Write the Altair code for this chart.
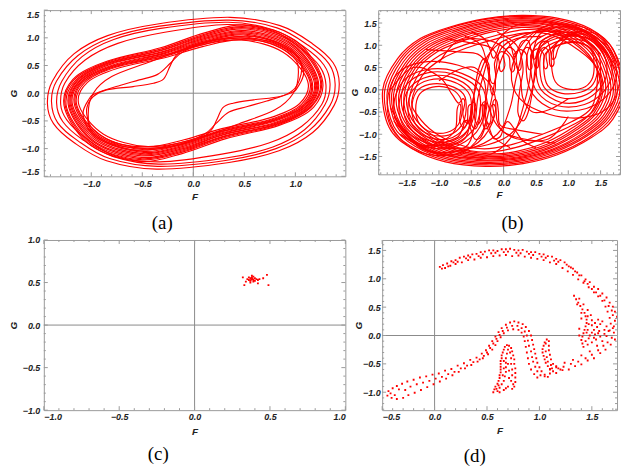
import altair as alt
import pandas as pd

RED = "#ff0000"
FRAME = "#9a9a9a"
ZERO = "#8a8a8a"
INK = "#222222"

# ---------------- panel (a): trajectory loops, (F, G) ----------------
a_outer_1 = [(-1.43,-0.18),(-1.38,0.22),(-1.17,0.71),(-0.84,1.04),(-0.35,1.25),(0.36,1.37),(0.85,1.22),(1.17,0.89),(1.37,0.55),(1.43,0.18),(1.38,-0.22),(1.17,-0.71),(0.84,-1.04),(0.35,-1.25),(-0.36,-1.37),(-0.85,-1.22),(-1.17,-0.89),(-1.37,-0.55)]
a_outer_2 = [(-1.39,-0.15),(-1.34,0.22),(-1.13,0.68),(-0.81,1.00),(-0.33,1.21),(0.35,1.32),(0.82,1.18),(1.13,0.86),(1.33,0.53),(1.39,0.16),(1.34,-0.22),(1.13,-0.68),(0.81,-1.00),(0.33,-1.21),(-0.35,-1.32),(-0.82,-1.18),(-1.13,-0.86),(-1.33,-0.53)]
a_outer_3 = [(-1.34,-0.17),(-1.29,0.21),(-1.09,0.66),(-0.78,0.97),(-0.32,1.17),(0.34,1.28),(0.79,1.14),(1.09,0.83),(1.28,0.51),(1.34,0.17),(1.29,-0.21),(1.09,-0.66),(0.78,-0.97),(0.32,-1.17),(-0.34,-1.28),(-0.79,-1.14),(-1.09,-0.83),(-1.28,-0.51)]
a_outer_4 = [(-1.30,-0.20),(-1.26,0.18),(-1.06,0.60),(-0.74,0.90),(-0.28,1.10),(0.33,1.24),(0.78,1.12),(1.06,0.80),(1.24,0.48),(1.30,0.15),(1.26,-0.20),(1.06,-0.60),(0.74,-0.90),(0.28,-1.10),(-0.33,-1.24),(-0.78,-1.12),(-1.06,-0.80),(-1.24,-0.48)]
a_band_1 = [(-1.26,-0.28),(-1.18,0.25),(-0.84,0.58),(-0.32,0.82),(0.11,1.09),(0.53,1.23),(1.00,0.95),(1.26,0.28),(1.18,-0.25),(0.84,-0.58),(0.32,-0.82),(-0.11,-1.09),(-0.53,-1.23),(-1.00,-0.95)]
a_band_1b = [(-1.25,-0.27),(-1.17,0.24),(-0.83,0.57),(-0.31,0.80),(0.10,1.06),(0.52,1.20),(0.99,0.93),(1.25,0.27),(1.16,-0.24),(0.83,-0.57),(0.31,-0.80),(-0.10,-1.06),(-0.52,-1.20),(-0.99,-0.93)]
a_band_2 = [(-1.24,-0.27),(-1.15,0.24),(-0.82,0.56),(-0.31,0.78),(0.10,1.04),(0.52,1.18),(0.98,0.91),(1.24,0.27),(1.15,-0.24),(0.82,-0.56),(0.31,-0.78),(-0.10,-1.04),(-0.52,-1.18),(-0.98,-0.91)]
a_band_2b = [(-1.22,-0.26),(-1.14,0.23),(-0.82,0.55),(-0.31,0.77),(0.10,1.02),(0.51,1.16),(0.97,0.89),(1.22,0.26),(1.14,-0.23),(0.82,-0.55),(0.31,-0.77),(-0.10,-1.02),(-0.51,-1.16),(-0.97,-0.89)]
a_band_3 = [(-1.21,-0.26),(-1.13,0.23),(-0.81,0.54),(-0.30,0.75),(0.10,1.00),(0.51,1.13),(0.96,0.88),(1.21,0.26),(1.13,-0.23),(0.81,-0.54),(0.30,-0.75),(-0.10,-1.00),(-0.51,-1.13),(-0.96,-0.88)]
a_band_3b = [(-1.20,-0.25),(-1.12,0.22),(-0.80,0.53),(-0.30,0.74),(0.10,0.98),(0.50,1.11),(0.95,0.86),(1.20,0.25),(1.12,-0.22),(0.80,-0.53),(0.30,-0.74),(-0.10,-0.98),(-0.50,-1.11),(-0.95,-0.86)]
a_band_4 = [(-1.19,-0.25),(-1.11,0.22),(-0.79,0.51),(-0.30,0.72),(0.10,0.96),(0.50,1.09),(0.94,0.84),(1.19,0.25),(1.11,-0.22),(0.79,-0.51),(0.30,-0.72),(-0.10,-0.96),(-0.50,-1.09),(-0.94,-0.84)]
a_band_4b = [(-1.18,-0.24),(-1.10,0.21),(-0.78,0.50),(-0.29,0.71),(0.10,0.94),(0.49,1.07),(0.93,0.82),(1.18,0.24),(1.10,-0.21),(0.78,-0.50),(0.29,-0.71),(-0.10,-0.94),(-0.49,-1.07),(-0.93,-0.82)]
a_band_5 = [(-1.16,-0.24),(-1.09,0.21),(-0.78,0.49),(-0.29,0.69),(0.10,0.92),(0.49,1.05),(0.92,0.81),(1.16,0.24),(1.09,-0.21),(0.78,-0.49),(0.29,-0.69),(-0.10,-0.92),(-0.49,-1.05),(-0.92,-0.81)]
a_band_5b = [(-1.15,-0.23),(-1.08,0.20),(-0.77,0.48),(-0.29,0.68),(0.10,0.90),(0.48,1.02),(0.91,0.79),(1.15,0.23),(1.08,-0.20),(0.77,-0.48),(0.29,-0.68),(-0.10,-0.90),(-0.48,-1.02),(-0.91,-0.79)]
a_band_6 = [(-1.14,-0.23),(-1.06,0.20),(-0.76,0.47),(-0.29,0.66),(0.10,0.88),(0.48,1.00),(0.90,0.77),(1.14,0.23),(1.06,-0.20),(0.76,-0.47),(0.29,-0.66),(-0.10,-0.88),(-0.48,-1.00),(-0.90,-0.77)]
a_band_7 = [(-1.12,-0.22),(-1.04,0.19),(-0.74,0.45),(-0.28,0.64),(0.09,0.84),(0.47,0.96),(0.88,0.74),(1.12,0.22),(1.04,-0.19),(0.74,-0.45),(0.28,-0.64),(-0.09,-0.84),(-0.47,-0.96),(-0.88,-0.74)]
a_inner = [(-1.03,-0.38),(-0.98,0.00),(-0.80,0.30),(-0.45,0.55),(-0.10,0.78),(0.30,0.95),(0.72,0.92),(0.98,0.65),(1.03,0.38),(0.98,0.00),(0.80,-0.30),(0.45,-0.55),(0.10,-0.78),(-0.30,-0.95),(-0.72,-0.92),(-0.98,-0.65)]
a_kink_1 = [(-1.04,-0.42),(-1.04,-0.24),(-0.98,-0.06),(-0.85,0.06),(-0.59,0.12),(-0.39,0.18),(-0.29,0.26),(-0.23,0.48),(-0.17,0.68),(-0.04,0.84),(0.30,0.98),(0.72,0.95),(0.98,0.72),(1.06,0.50),(1.04,0.24),(0.98,0.06),(0.85,-0.06),(0.59,-0.12),(0.39,-0.18),(0.29,-0.26),(0.23,-0.48),(0.17,-0.68),(0.04,-0.84),(-0.30,-0.98),(-0.72,-0.95),(-0.98,-0.72)]
a_kink_2 = [(-1.08,-0.40),(-1.02,-0.10),(-0.95,0.00),(-0.72,0.14),(-0.53,0.24),(-0.35,0.34),(-0.22,0.55),(-0.10,0.75),(0.20,0.96),(0.60,1.02),(0.95,0.80),(1.08,0.40),(1.02,0.10),(0.95,0.00),(0.72,-0.14),(0.53,-0.24),(0.35,-0.34),(0.22,-0.55),(0.10,-0.75),(-0.20,-0.96),(-0.60,-1.02),(-0.95,-0.80)]
a_loops = [a_outer_1, a_outer_2, a_outer_3, a_outer_4, a_band_1, a_band_1b, a_band_2, a_band_2b,
           a_band_3, a_band_3b, a_band_4, a_band_4b, a_band_5, a_band_5b, a_band_6, a_band_7,
           a_inner, a_kink_1, a_kink_2]

# ---------------- panel (b): closed loops and open curly paths ----------------
b_ring_1 = [(-1.87,0.00),(-1.64,0.70),(-1.29,1.15),(-0.83,1.41),(-0.28,1.60),(0.28,1.67),(0.83,1.61),(1.34,1.37),(1.69,0.92),(1.87,0.05),(1.69,-0.66),(1.34,-1.09),(0.83,-1.46),(0.30,-1.66),(-0.28,-1.72),(-0.90,-1.62),(-1.42,-1.32),(-1.77,-0.85)]
b_ring_1b = [(-1.84,-0.02),(-1.61,0.68),(-1.27,1.13),(-0.82,1.39),(-0.28,1.58),(0.28,1.65),(0.82,1.58),(1.32,1.34),(1.66,0.89),(1.84,0.03),(1.66,-0.64),(1.32,-1.07),(0.82,-1.43),(0.29,-1.63),(-0.28,-1.69),(-0.89,-1.59),(-1.40,-1.30),(-1.74,-0.84)]
b_ring_2 = [(-1.80,-0.05),(-1.58,0.66),(-1.24,1.10),(-0.80,1.36),(-0.27,1.55),(0.28,1.62),(0.80,1.55),(1.29,1.31),(1.63,0.86),(1.80,0.02),(1.63,-0.62),(1.29,-1.04),(0.80,-1.40),(0.28,-1.60),(-0.27,-1.66),(-0.87,-1.56),(-1.37,-1.27),(-1.70,-0.82)]
b_ring_2b = [(-1.76,-0.06),(-1.55,0.63),(-1.22,1.07),(-0.78,1.33),(-0.26,1.52),(0.28,1.60),(0.79,1.52),(1.27,1.28),(1.60,0.84),(1.76,0.01),(1.60,-0.61),(1.27,-1.02),(0.79,-1.37),(0.28,-1.57),(-0.26,-1.63),(-0.85,-1.53),(-1.34,-1.24),(-1.66,-0.80)]
b_ring_3 = [(-1.73,-0.08),(-1.52,0.60),(-1.19,1.04),(-0.76,1.30),(-0.25,1.50),(0.27,1.57),(0.77,1.50),(1.24,1.26),(1.57,0.82),(1.73,0.00),(1.57,-0.60),(1.24,-1.00),(0.77,-1.35),(0.27,-1.54),(-0.25,-1.60),(-0.83,-1.50),(-1.31,-1.21),(-1.63,-0.78)]
b_ring_3b = [(-1.70,-0.09),(-1.49,0.58),(-1.16,1.01),(-0.74,1.27),(-0.24,1.47),(0.28,1.55),(0.76,1.48),(1.22,1.24),(1.54,0.80),(1.70,0.01),(1.54,-0.58),(1.22,-0.98),(0.76,-1.33),(0.26,-1.52),(-0.25,-1.58),(-0.82,-1.47),(-1.28,-1.19),(-1.60,-0.76)]
b_ring_4 = [(-1.66,-0.10),(-1.46,0.55),(-1.14,0.98),(-0.72,1.24),(-0.22,1.44),(0.28,1.52),(0.74,1.45),(1.19,1.21),(1.50,0.78),(1.66,0.02),(1.50,-0.57),(1.19,-0.95),(0.74,-1.30),(0.25,-1.50),(-0.24,-1.55),(-0.80,-1.44),(-1.25,-1.16),(-1.56,-0.74)]
b_ring_4b = [(-1.62,-0.11),(-1.43,0.52),(-1.11,0.95),(-0.70,1.21),(-0.21,1.41),(0.28,1.50),(0.73,1.43),(1.16,1.19),(1.47,0.76),(1.62,0.03),(1.47,-0.55),(1.16,-0.93),(0.72,-1.28),(0.25,-1.47),(-0.24,-1.53),(-0.78,-1.41),(-1.22,-1.13),(-1.53,-0.72)]
b_ring_5 = [(-1.58,-0.12),(-1.40,0.50),(-1.08,0.92),(-0.68,1.18),(-0.20,1.38),(0.28,1.47),(0.71,1.40),(1.13,1.16),(1.43,0.74),(1.58,0.05),(1.43,-0.53),(1.13,-0.90),(0.70,-1.25),(0.24,-1.44),(-0.23,-1.50),(-0.76,-1.38),(-1.19,-1.10),(-1.49,-0.70)]
b_ring_5b = [(-1.54,-0.13),(-1.37,0.48),(-1.05,0.89),(-0.66,1.14),(-0.19,1.34),(0.28,1.44),(0.70,1.37),(1.10,1.13),(1.40,0.72),(1.54,0.06),(1.40,-0.52),(1.10,-0.88),(0.68,-1.22),(0.23,-1.41),(-0.22,-1.47),(-0.74,-1.35),(-1.16,-1.08),(-1.46,-0.68)]
b_ring_6 = [(-1.50,-0.15),(-1.34,0.45),(-1.02,0.86),(-0.63,1.10),(-0.18,1.30),(0.28,1.40),(0.68,1.34),(1.07,1.10),(1.36,0.70),(1.50,0.08),(1.36,-0.50),(1.07,-0.85),(0.66,-1.18),(0.22,-1.38),(-0.22,-1.44),(-0.72,-1.32),(-1.13,-1.05),(-1.42,-0.66)]
b_ring_7 = [(-1.46,-0.20),(-1.30,0.38),(-0.98,0.78),(-0.58,1.02),(-0.12,1.22),(0.32,1.35),(0.72,1.30),(1.08,1.05),(1.38,0.62),(1.52,0.12),(1.40,-0.45),(1.08,-0.78),(0.62,-1.08),(0.18,-1.30),(-0.28,-1.40),(-0.75,-1.28),(-1.12,-1.00),(-1.38,-0.62)]
b_ring_8 = [(-1.42,-0.25),(-1.26,0.32),(-0.95,0.70),(-0.55,0.95),(-0.10,1.15),(0.33,1.28),(0.70,1.25),(1.05,1.00),(1.40,0.58),(1.45,0.20),(1.36,-0.40),(1.05,-0.72),(0.60,-1.00),(0.15,-1.22),(-0.30,-1.33),(-0.72,-1.22),(-1.08,-0.95),(-1.33,-0.58)]
b_left_0 = [(-1.36,-0.45),(-1.30,-0.10),(-1.10,0.06),(-0.85,0.04),(-0.68,-0.15),(-0.64,-0.45),(-0.70,-0.78),(-0.88,-0.96),(-1.12,-0.95),(-1.30,-0.77)]
b_left_1 = [(-1.42,-0.45),(-1.35,-0.05),(-1.15,0.12),(-0.85,0.10),(-0.62,-0.10),(-0.58,-0.45),(-0.65,-0.80),(-0.85,-1.02),(-1.15,-1.00),(-1.35,-0.80)]
b_left_5 = [(-1.48,-0.42),(-1.40,0.00),(-1.15,0.22),(-0.82,0.20),(-0.55,-0.05),(-0.50,-0.45),(-0.60,-0.85),(-0.85,-1.10),(-1.18,-1.06),(-1.40,-0.82)]
b_left_2 = [(-1.55,-0.40),(-1.45,0.05),(-1.15,0.30),(-0.80,0.28),(-0.50,0.00),(-0.45,-0.45),(-0.55,-0.90),(-0.85,-1.17),(-1.20,-1.12),(-1.45,-0.85)]
b_left_6 = [(-1.62,-0.38),(-1.50,0.12),(-1.18,0.38),(-0.78,0.35),(-0.42,0.05),(-0.36,-0.42),(-0.48,-0.92),(-0.82,-1.24),(-1.22,-1.18),(-1.52,-0.88)]
b_left_3 = [(-1.70,-0.35),(-1.55,0.20),(-1.20,0.45),(-0.75,0.42),(-0.35,0.10),(-0.28,-0.40),(-0.42,-0.95),(-0.80,-1.30),(-1.25,-1.25),(-1.58,-0.90)]
b_left_4 = [(-1.80,-0.30),(-1.65,0.35),(-1.25,0.62),(-0.70,0.55),(-0.25,0.20),(-0.12,-0.40),(-0.30,-1.05),(-0.75,-1.45),(-1.30,-1.40),(-1.68,-0.95)]
b_right_0 = [(1.40,0.52),(1.36,0.88),(1.18,1.06),(0.95,1.06),(0.76,0.90),(0.74,0.55),(0.80,0.18),(0.98,0.02),(1.22,0.04),(1.36,0.22)]
b_right_1 = [(1.45,0.48),(1.38,0.88),(1.18,1.05),(0.88,1.02),(0.65,0.82),(0.62,0.48),(0.68,0.10),(0.90,-0.08),(1.20,-0.05),(1.38,0.12)]
b_right_5 = [(1.50,0.46),(1.44,0.90),(1.19,1.12),(0.86,1.10),(0.60,0.87),(0.56,0.46),(0.63,0.05),(0.89,-0.18),(1.21,-0.15),(1.44,0.08)]
b_right_2 = [(1.60,0.45),(1.50,0.92),(1.20,1.20),(0.85,1.17),(0.55,0.92),(0.50,0.45),(0.58,0.00),(0.88,-0.28),(1.22,-0.25),(1.50,0.05)]
b_right_6 = [(1.68,0.42),(1.55,0.94),(1.22,1.26),(0.82,1.25),(0.48,0.96),(0.42,0.45),(0.52,-0.05),(0.84,-0.36),(1.25,-0.33),(1.56,-0.02)]
b_right_3 = [(1.75,0.40),(1.60,0.95),(1.25,1.32),(0.80,1.32),(0.42,1.00),(0.35,0.45),(0.45,-0.10),(0.80,-0.45),(1.28,-0.42),(1.62,-0.10)]
b_right_4 = [(1.80,0.30),(1.65,1.00),(1.25,1.40),(0.70,1.45),(0.30,1.05),(0.12,0.40),(0.25,-0.20),(0.70,-0.55),(1.25,-0.62),(1.65,-0.35)]
b_loops = [b_ring_1, b_ring_1b, b_ring_2, b_ring_2b, b_ring_3, b_ring_3b, b_ring_4, b_ring_4b,
           b_ring_5, b_ring_5b, b_ring_6, b_ring_7, b_ring_8,
           b_left_0, b_left_1, b_left_5, b_left_2, b_left_6, b_left_3, b_left_4,
           b_right_0, b_right_1, b_right_5, b_right_2, b_right_6, b_right_3, b_right_4]

b_curl_up_1 = [(-0.90,1.15),(-0.50,1.05),(-0.20,0.95),(-0.08,0.70),(-0.06,0.45),(-0.02,0.42),(0.02,0.55),(0.00,0.80),(0.08,0.95),(0.18,0.85),(0.20,0.60),(0.23,0.44),(0.27,0.50),(0.27,0.75),(0.35,0.95),(0.45,0.85),(0.47,0.60),(0.50,0.48),(0.54,0.55),(0.54,0.80),(0.62,0.95),(0.70,0.85),(0.71,0.60),(0.74,0.52),(0.78,0.60),(0.77,0.85),(0.85,1.10),(1.10,1.30),(1.50,1.20),(1.75,0.60)]
b_curl_up_2 = [(-1.20,0.90),(-0.70,0.85),(-0.40,0.80),(-0.25,0.55),(-0.20,0.20),(-0.15,0.15),(-0.12,0.30),(-0.14,0.60),(-0.05,0.85),(0.08,0.75),(0.10,0.50),(0.13,0.40),(0.17,0.48),(0.15,0.75),(0.25,0.90),(0.35,0.80),(0.37,0.55),(0.40,0.45),(0.44,0.52),(0.42,0.78),(0.52,0.92),(0.62,0.80),(0.62,0.55),(0.65,0.47),(0.68,0.55),(0.66,0.80),(0.78,1.00),(1.00,1.20),(1.40,1.10),(1.60,0.60)]
b_curl_up_3 = [(-0.60,1.20),(-0.35,1.00),(-0.25,0.50),(-0.20,0.00),(-0.17,-0.12),(-0.13,0.00),(-0.12,0.40),(-0.05,0.90),(0.20,1.15),(0.60,1.20)]
b_curl_up_4 = [(-0.50,1.30),(-0.30,1.15),(-0.22,0.95),(-0.18,0.75),(-0.14,0.72),(-0.10,0.85),(-0.05,1.05),(0.05,1.10),(0.12,0.95),(0.15,0.78),(0.19,0.75),(0.22,0.90),(0.28,1.08),(0.38,1.10),(0.42,0.92),(0.45,0.72),(0.49,0.70),(0.52,0.85),(0.58,1.05),(0.68,1.08),(0.72,0.90),(0.75,0.70),(0.80,0.72),(0.85,0.95),(1.00,1.20),(1.30,1.35)]
b_curl_dn_1 = [(0.80,-1.20),(0.30,-1.10),(0.00,-0.95),(-0.10,-0.70),(-0.12,-0.42),(-0.16,-0.33),(-0.20,-0.42),(-0.20,-0.70),(-0.27,-0.88),(-0.32,-0.75),(-0.30,-0.45),(-0.32,-0.33),(-0.36,-0.40),(-0.38,-0.70),(-0.44,-0.88),(-0.50,-0.75),(-0.48,-0.45),(-0.50,-0.33),(-0.55,-0.40),(-0.56,-0.70),(-0.62,-0.85),(-0.68,-0.70),(-0.66,-0.42),(-0.68,-0.32),(-0.72,-0.45),(-0.75,-0.90),(-0.95,-1.15),(-1.30,-1.25),(-1.70,-0.70)]
b_curl_dn_2 = [(0.60,-1.00),(0.20,-0.90),(-0.05,-0.80),(-0.08,-0.50),(-0.10,-0.28),(-0.14,-0.22),(-0.17,-0.35),(-0.15,-0.60),(-0.22,-0.78),(-0.28,-0.60),(-0.26,-0.35),(-0.29,-0.27),(-0.33,-0.33),(-0.33,-0.60),(-0.40,-0.78),(-0.45,-0.62),(-0.43,-0.38),(-0.46,-0.28),(-0.50,-0.35),(-0.50,-0.60),(-0.57,-0.75),(-0.63,-0.55),(-0.60,-0.30),(-0.63,-0.20),(-0.70,-0.30),(-0.80,-0.10),(-1.00,0.30),(-1.40,0.50),(-1.75,0.00)]
b_curl_dn_3 = [(0.50,-1.30),(0.30,-1.15),(0.20,-0.95),(0.10,-0.75),(0.05,-0.72),(0.00,-0.85),(-0.05,-1.05),(-0.15,-1.10),(-0.20,-0.95),(-0.24,-0.78),(-0.28,-0.75),(-0.30,-0.90),(-0.36,-1.08),(-0.45,-1.10),(-0.50,-0.92),(-0.55,-0.72),(-0.60,-0.70),(-0.63,-0.85),(-0.70,-1.05),(-0.85,-1.15),(-1.20,-1.30),(-1.60,-1.00)]
b_cross_1 = [(-1.60,-1.00),(-1.10,-1.40),(-0.60,-1.30),(-0.45,-0.80),(-0.40,-0.20),(-0.30,0.40),(-0.15,1.00),(0.20,1.45),(0.80,1.50),(1.40,1.15),(1.75,0.40)]
b_cross_2 = [(1.60,1.00),(1.10,1.40),(0.60,1.30),(0.45,0.80),(0.40,0.20),(0.30,-0.40),(0.15,-1.00),(-0.20,-1.45),(-0.80,-1.50),(-1.40,-1.15),(-1.75,-0.40)]
b_cross_3 = [(-1.30,-1.25),(-0.80,-1.20),(-0.55,-0.90),(-0.50,-0.40),(-0.40,0.20),(-0.25,0.75),(0.00,1.10),(0.50,1.30),(1.10,1.25),(1.50,0.80)]
b_cross_4 = [(1.30,1.25),(0.80,1.20),(0.55,0.90),(0.50,0.40),(0.40,-0.20),(0.25,-0.75),(0.00,-1.10),(-0.50,-1.30),(-1.10,-1.25),(-1.50,-0.80)]
b_cross_5 = [(-1.70,-0.60),(-1.30,-1.30),(-0.70,-1.45),(-0.35,-1.00),(-0.20,-0.30),(-0.10,0.40),(0.10,1.00),(0.60,1.35),(1.20,1.35),(1.65,0.70)]
b_cross_6 = [(1.70,0.60),(1.30,1.30),(0.70,1.45),(0.35,1.00),(0.20,0.30),(0.10,-0.40),(-0.10,-1.00),(-0.60,-1.35),(-1.20,-1.35),(-1.65,-0.70)]
b_mid_1 = [(-1.00,0.20),(-0.70,0.45),(-0.45,0.50),(-0.30,0.20),(-0.25,-0.30),(-0.10,-0.80),(0.20,-1.10),(0.70,-1.10),(1.00,-0.60)]
b_mid_2 = [(1.00,-0.20),(0.70,-0.45),(0.45,-0.50),(0.30,-0.20),(0.25,0.30),(0.10,0.80),(-0.20,1.10),(-0.70,1.10),(-1.00,0.60)]
b_mid_3 = [(-0.90,-1.30),(-0.60,-1.10),(-0.50,-0.60),(-0.45,0.00),(-0.38,0.50),(-0.30,0.70),(-0.22,0.50),(-0.25,0.00),(-0.30,-0.50),(-0.20,-1.00),(0.10,-1.30)]
b_mid_4 = [(0.90,1.30),(0.60,1.10),(0.50,0.60),(0.45,0.00),(0.38,-0.50),(0.30,-0.70),(0.22,-0.50),(0.25,0.00),(0.30,0.50),(0.20,1.00),(-0.10,1.30)]
b_paths = [b_curl_up_1, b_curl_up_2, b_curl_up_3, b_curl_up_4, b_curl_dn_1, b_curl_dn_2, b_curl_dn_3,
           b_cross_1, b_cross_2, b_cross_3, b_cross_4, b_cross_5, b_cross_6,
           b_mid_1, b_mid_2, b_mid_3, b_mid_4]

# ---------------- panel (c): Poincare points ----------------
c_F = [0.32,0.33,0.34,0.36,0.37,0.37,0.38,0.38,0.39,0.39,0.38,0.40,0.40,0.41,0.42,0.42,0.37,0.455,0.48,0.49,0.35,0.36,0.39,0.43,0.385,0.375]
c_G = [0.56,0.47,0.51,0.53,0.55,0.52,0.54,0.56,0.53,0.57,0.58,0.55,0.52,0.54,0.49,0.53,0.50,0.55,0.59,0.47,0.54,0.56,0.51,0.54,0.545,0.535]

# ---------------- panel (d): Poincare points ----------------
d_arc_outer = [(0.05,1.21),(0.08,1.24),(0.12,1.27),(0.16,1.31),(0.20,1.33),(0.24,1.37),(0.28,1.39),(0.32,1.41),(0.36,1.43),(0.40,1.44),(0.44,1.47),(0.48,1.48),(0.52,1.50),(0.56,1.50),(0.60,1.49),(0.64,1.52),(0.68,1.52),(0.72,1.53),(0.76,1.51),(0.80,1.50),(0.84,1.51),(0.88,1.48),(0.92,1.47),(0.96,1.47),(1.00,1.44),(1.04,1.43),(1.08,1.40),(1.12,1.39),(1.16,1.35),(1.20,1.33),(1.24,1.29),(1.28,1.22),(1.32,1.18),(1.36,1.11),(1.40,1.06),(1.44,0.99),(1.48,0.94),(1.52,0.86),(1.56,0.82),(1.60,0.74),(1.64,0.67),(1.67,0.58),(1.70,0.51),(1.72,0.42),(1.74,0.33),(1.75,0.22),(1.76,0.13),(1.75,0.02),(1.72,-0.07),(1.68,-0.16),(1.63,-0.25),(1.58,-0.31),(1.52,-0.40),(1.46,-0.44),(1.40,-0.51),(1.34,-0.54),(1.28,-0.60),(1.22,-0.61),(1.16,-0.66),(1.10,-0.67),(1.05,-0.72)]
d_arc_inner = [(0.10,1.19),(0.15,1.23),(0.20,1.26),(0.26,1.29),(0.32,1.33),(0.38,1.34),(0.44,1.37),(0.50,1.38),(0.56,1.40),(0.62,1.41),(0.68,1.42),(0.74,1.40),(0.80,1.41),(0.86,1.39),(0.92,1.37),(0.98,1.35),(1.04,1.33),(1.10,1.29),(1.16,1.26),(1.22,1.19),(1.27,1.13),(1.32,1.07),(1.37,0.99),(1.42,0.93),(1.47,0.85),(1.52,0.76),(1.56,0.69),(1.60,0.61),(1.63,0.51),(1.65,0.42),(1.67,0.31),(1.68,0.21),(1.67,0.09),(1.64,-0.01),(1.60,-0.10),(1.55,-0.18),(1.48,-0.28),(1.40,-0.35),(1.32,-0.43),(1.24,-0.48),(1.16,-0.54),(1.10,-0.60)]
d_arc_mid = [(0.07,1.18),(0.13,1.22),(0.18,1.29),(0.22,1.30),(0.30,1.36),(0.34,1.38),(0.42,1.40),(0.46,1.43),(0.54,1.45),(0.58,1.46),(0.66,1.47),(0.70,1.48),(0.78,1.46),(0.82,1.45),(0.90,1.44),(0.94,1.42),(1.02,1.39),(1.06,1.37),(1.14,1.32),(1.18,1.30),(1.26,1.25),(1.30,1.20),(1.34,1.13),(1.38,1.06),(1.43,0.96),(1.46,0.91),(1.50,0.82),(1.54,0.76),(1.58,0.70),(1.62,0.62),(1.66,0.52),(1.69,0.44),(1.70,0.36),(1.72,0.26),(1.71,0.16),(1.71,0.05),(1.69,-0.04),(1.65,-0.12),(1.61,-0.18),(1.56,-0.26),(1.50,-0.34),(1.44,-0.40),(1.37,-0.46),(1.30,-0.50),(1.23,-0.55),(1.18,-0.58)]
d_hook = [(1.33,0.70),(1.35,0.64),(1.37,0.58),(1.39,0.52),(1.41,0.46),(1.43,0.40),(1.44,0.34),(1.45,0.28),(1.45,0.22),(1.44,0.16),(1.43,0.10),(1.42,0.04),(1.41,-0.02),(1.40,-0.08),(1.41,-0.14),(1.42,-0.20),(1.46,-0.16),(1.50,-0.12),(1.54,-0.07),(1.58,-0.02),(1.62,0.03),(1.66,0.08),(1.70,0.13),(1.38,0.65),(1.42,0.55),(1.46,0.45),(1.49,0.36),(1.50,0.27),(1.50,0.18),(1.52,0.10),(1.55,0.15),(1.58,0.20),(1.60,0.25),(1.48,0.00),(1.45,0.05),(1.50,0.05),(1.47,-0.05),(1.44,-0.10),(1.53,0.02),(1.57,0.08),(1.36,0.55),(1.40,0.40),(1.46,0.34),(1.40,0.30),(1.47,0.20),(1.38,0.12),(1.46,0.10),(1.38,0.00),(1.52,-0.04),(1.56,0.04),(1.62,0.10),(1.64,0.16),(1.56,0.28),(1.53,0.22)]
d_low_a = [(-0.44,-0.98),(-0.40,-0.93),(-0.36,-0.89),(-0.31,-0.85),(-0.26,-0.81),(-0.20,-0.78),(-0.14,-0.74),(-0.08,-0.72),(-0.02,-0.69),(0.04,-0.67),(0.10,-0.62),(0.16,-0.59),(0.22,-0.53),(0.28,-0.49),(0.34,-0.43),(0.40,-0.39),(0.45,-0.32),(0.49,-0.26),(0.52,-0.18),(0.55,-0.10),(0.58,-0.02),(0.61,0.06),(0.64,0.13),(0.68,0.19),(0.72,0.23),(0.76,0.25),(0.80,0.23),(0.84,0.20),(0.87,0.15),(0.90,0.08),(0.92,0.00),(0.93,-0.08),(0.94,-0.16),(0.95,-0.24),(0.96,-0.32),(0.97,-0.40),(0.98,-0.48),(1.00,-0.56),(1.02,-0.63),(1.05,-0.69),(1.08,-0.73)]
d_low_b = [(-0.45,-1.06),(-0.41,-1.10),(-0.36,-1.12),(-0.30,-1.10),(-0.25,-1.05),(-0.19,-1.01),(-0.13,-0.96),(-0.07,-0.91),(-0.01,-0.86),(0.05,-0.81),(0.11,-0.76),(0.17,-0.70),(0.23,-0.64),(0.29,-0.58),(0.35,-0.52),(0.41,-0.46),(0.46,-0.40),(0.51,-0.33),(0.55,-0.25),(0.58,-0.17),(0.60,-0.10),(0.63,-0.03),(0.66,0.04),(0.70,0.09),(0.75,0.11),(0.80,0.10),(0.83,0.05),(0.85,-0.02),(0.86,-0.10),(0.87,-0.20),(0.88,-0.30),(0.89,-0.40),(0.90,-0.50),(0.92,-0.60),(0.95,-0.68),(0.98,-0.74)]
d_low_mid = [(-0.42,-1.02),(-0.38,-1.05),(-0.34,-0.95),(-0.28,-0.96),(-0.23,-0.90),(-0.17,-0.86),(-0.11,-0.83),(-0.05,-0.80),(0.01,-0.76),(0.07,-0.73),(0.13,-0.68),(0.19,-0.64),(0.25,-0.58),(0.31,-0.53),(0.37,-0.47),(0.43,-0.42),(0.47,-0.36),(0.50,-0.30),(0.53,-0.22),(0.56,-0.14),(0.59,-0.06),(0.62,0.01),(0.65,0.08),(0.69,0.14),(0.74,0.17),(0.79,0.17),(0.83,0.13),(0.86,0.07),(0.88,0.00),(0.89,-0.09),(0.90,-0.18),(0.92,-0.28),(0.93,-0.38),(0.94,-0.46),(0.96,-0.55),(0.98,-0.63),(1.01,-0.70)]
d_tongue = [(0.56,-1.00),(0.57,-0.95),(0.58,-0.90),(0.60,-0.85),(0.61,-0.80),(0.62,-0.75),(0.62,-0.70),(0.63,-0.65),(0.63,-0.60),(0.63,-0.55),(0.63,-0.50),(0.63,-0.45),(0.64,-0.40),(0.64,-0.35),(0.65,-0.30),(0.66,-0.25),(0.67,-0.20),(0.69,-0.17),(0.60,-0.98),(0.62,-0.92),(0.64,-0.86),(0.66,-0.80),(0.67,-0.72),(0.68,-0.64),(0.68,-0.56),(0.68,-0.48),(0.68,-0.40),(0.69,-0.32),(0.70,-0.25),(0.71,-0.18),(0.73,-0.22),(0.74,-0.28),(0.75,-0.35),(0.76,-0.42),(0.76,-0.50),(0.77,-0.58),(0.77,-0.66),(0.77,-0.74),(0.77,-0.82),(0.76,-0.90),(0.74,-0.94),(0.72,-0.30),(0.73,-0.40),(0.73,-0.50),(0.74,-0.60),(0.74,-0.70),(0.73,-0.80),(0.70,-0.90),(0.66,-0.96),(0.59,-0.94),(0.61,-0.88),(0.65,-0.70),(0.66,-0.58),(0.66,-0.45),(0.70,-0.50),(0.71,-0.62),(0.71,-0.75),(0.75,-0.86),(0.68,-0.93),(0.62,-1.00)]
d_finger = [(1.07,-0.07),(1.05,-0.12),(1.04,-0.18),(1.03,-0.24),(1.03,-0.30),(1.04,-0.36),(1.05,-0.42),(1.06,-0.48),(1.08,-0.54),(1.10,-0.59),(1.13,-0.63),(1.09,-0.10),(1.09,-0.18),(1.09,-0.26),(1.10,-0.34),(1.11,-0.42),(1.13,-0.50),(1.16,-0.56),(1.20,-0.60),(1.06,-0.28),(1.07,-0.38),(1.08,-0.46),(1.11,-0.52),(1.06,-0.14),(1.12,-0.58)]
d_sets = [d_arc_outer, d_arc_inner, d_arc_mid, d_hook, d_low_a, d_low_b, d_low_mid, d_tongue, d_finger]

# ---------------- axis tick labels ----------------
a_xticks = [-1.0, -0.5, 0.0, 0.5, 1.0]
a_yticks = [-1.5, -1.0, -0.5, 0.0, 0.5, 1.0, 1.5]
b_xticks = [-1.5, -1.0, -0.5, 0.0, 0.5, 1.0, 1.5]
b_yticks = [-1.5, -1.0, -0.5, 0.0, 0.5, 1.0, 1.5]
c_xticks = [-1.0, -0.5, 0.0, 0.5, 1.0]
c_yticks = [-1.0, -0.5, 0.0, 0.5, 1.0]
d_xticks = [-0.5, 0.0, 0.5, 1.0, 1.5]
d_yticks = [-1.0, -0.5, 0.0, 0.5, 1.0, 1.5]


def loops_df(loops):
    rows = []
    for k, loop in enumerate(loops):
        for i, (f, g) in enumerate(loop):
            rows.append({"F": f, "G": g, "loop": k, "i": i})
    return pd.DataFrame(rows)


def points_df(sets):
    rows = []
    for s in sets:
        for f, g in s:
            rows.append({"F": f, "G": g})
    return pd.DataFrame(rows)


def minor_vals(lo, hi):
    out = []
    for k in range(int(lo * 10) - 1, int(hi * 10) + 2):
        v = k / 10.0
        if k % 5 != 0 and lo <= v <= hi:
            out.append(v)
    return out


def major_vals(lo, hi):
    out = []
    for k in range(int(lo * 2) - 1, int(hi * 2) + 2):
        v = k / 2.0
        if lo <= v <= hi:
            out.append(v)
    return out


def panel(cfg, data_layers):
    w, h = cfg["w"], cfg["h"]
    xs = alt.Scale(domain=cfg["xdom"], nice=False, zero=False)
    ys = alt.Scale(domain=cfg["ydom"], nice=False, zero=False)
    common = dict(labelFont="Liberation Sans", labelFontWeight="bold", labelFontStyle="italic",
                  labelFontSize=9, labelColor=INK, titleFont="Liberation Sans",
                  titleFontWeight="bold", titleFontStyle="italic", titleFontSize=10,
                  titleColor=INK, ticks=False, domain=False, grid=False, format=".1f",
                  labelOverlap=False)
    xaxis = alt.Axis(values=cfg["xvals"], title="F", labelPadding=cfg["xlp"],
                     minExtent=cfg["xext"], maxExtent=cfg["xext"], titlePadding=cfg["xtp"], **common)
    yaxis = alt.Axis(values=cfg["yvals"], title="G", labelPadding=cfg["ylp"],
                     minExtent=cfg["yext"], maxExtent=cfg["yext"], titlePadding=cfg["ytp"],
                     labelFlush=cfg["flush"], **common)
    X0 = alt.X("F:Q", scale=xs, axis=xaxis)
    Y0 = alt.Y("G:Q", scale=ys, axis=yaxis)

    layers = []
    layers.append(alt.Chart(pd.DataFrame({"F": [0.0], "G": [0.0]})).mark_point(opacity=0).encode(x=X0, y=Y0))
    layers.append(alt.Chart(pd.DataFrame({"F": [0.0]})).mark_rule(color=ZERO, strokeWidth=1).encode(x=X0))
    layers.append(alt.Chart(pd.DataFrame({"G": [0.0]})).mark_rule(color=ZERO, strokeWidth=1).encode(y=Y0))

    xlo, xhi = cfg["xdom"]
    ylo, yhi = cfg["ydom"]
    for vals, ln in ((major_vals(xlo, xhi), 4), (minor_vals(xlo, xhi), 2)):
        df = pd.DataFrame({"F": vals})
        layers.append(alt.Chart(df).mark_rule(color=FRAME, strokeWidth=1).encode(
            x=X0, y=alt.value(h), y2=alt.value(h - ln)))
        layers.append(alt.Chart(df).mark_rule(color=FRAME, strokeWidth=1).encode(
            x=X0, y=alt.value(0), y2=alt.value(ln)))
    for vals, ln in ((major_vals(ylo, yhi), 4), (minor_vals(ylo, yhi), 2)):
        df = pd.DataFrame({"G": vals})
        layers.append(alt.Chart(df).mark_rule(color=FRAME, strokeWidth=1).encode(
            y=Y0, x=alt.value(0), x2=alt.value(ln)))
        layers.append(alt.Chart(df).mark_rule(color=FRAME, strokeWidth=1).encode(
            y=Y0, x=alt.value(w), x2=alt.value(w - ln)))

    for kind, df in data_layers:
        if kind == "closed":
            layers.append(alt.Chart(df).mark_line(color=RED, strokeWidth=cfg["lw"], interpolate="cardinal-closed", clip=True).encode(
                x=X0, y=Y0, detail="loop:N", order="i:Q"))
        elif kind == "open":
            layers.append(alt.Chart(df).mark_line(color=RED, strokeWidth=cfg["lw"], interpolate="cardinal", clip=True).encode(
                x=X0, y=Y0, detail="loop:N", order="i:Q"))
        else:
            layers.append(alt.Chart(df).mark_square(color=RED, size=3.5, opacity=1, clip=True).encode(x=X0, y=Y0))

    layers.append(alt.Chart(pd.DataFrame({"t": [cfg["cap"]]})).mark_text(
        font="Liberation Serif", fontSize=19, color="black", baseline="middle", align="center").encode(
        text="t:N", x=alt.value(cfg["capx"]), y=alt.value(cfg["capy"])))
    return alt.layer(*layers).properties(width=w, height=h)


pa = panel(dict(w=303, h=167, xdom=[-1.465, 1.49], ydom=[-1.5, 1.5], xvals=a_xticks, yvals=a_yticks,
                xlp=3, xext=12, xtp=3, ylp=5, yext=21, ytp=4, flush=True, lw=1.15,
                cap="(a)", capx=119, capy=214),
           [("closed", loops_df(a_loops))])
pb = panel(dict(w=243, h=165, xdom=[-1.94, 1.80], ydom=[-1.90, 1.79], xvals=b_xticks, yvals=b_yticks,
                xlp=4, xext=13, xtp=2, ylp=2, yext=17, ytp=2, flush=False, lw=1.2,
                cap="(b)", capx=135, capy=214),
           [("closed", loops_df(b_loops)), ("open", loops_df(b_paths))])
pc = panel(dict(w=303, h=171, xdom=[-1.0, 1.0], ydom=[-1.0, 1.0], xvals=c_xticks, yvals=c_yticks,
                xlp=2, xext=11, xtp=5, ylp=4, yext=21, ytp=4, flush=False, lw=1.0,
                cap="(c)", capx=115, capy=215),
           [("points", pd.DataFrame({"F": c_F, "G": c_G}))])
pd_ = panel(dict(w=236, h=171, xdom=[-0.5, 1.74], ydom=[-1.316, 1.684], xvals=d_xticks, yvals=d_yticks,
                 xlp=2, xext=11, xtp=4, ylp=2, yext=17, ytp=2, flush=False, lw=1.0,
                 cap="(d)", capx=93, capy=217),
            [("points", points_df(d_sets))])

row1 = alt.hconcat(pa, pb, spacing=2)
row2 = alt.hconcat(pc, pd_, spacing=6)
chart = alt.vconcat(row1, row2, spacing=1).properties(
    padding=0, background="white").configure_view(stroke=FRAME, strokeWidth=1)

chart.save("out.html", embed_options={"renderer": "svg", "actions": False})
